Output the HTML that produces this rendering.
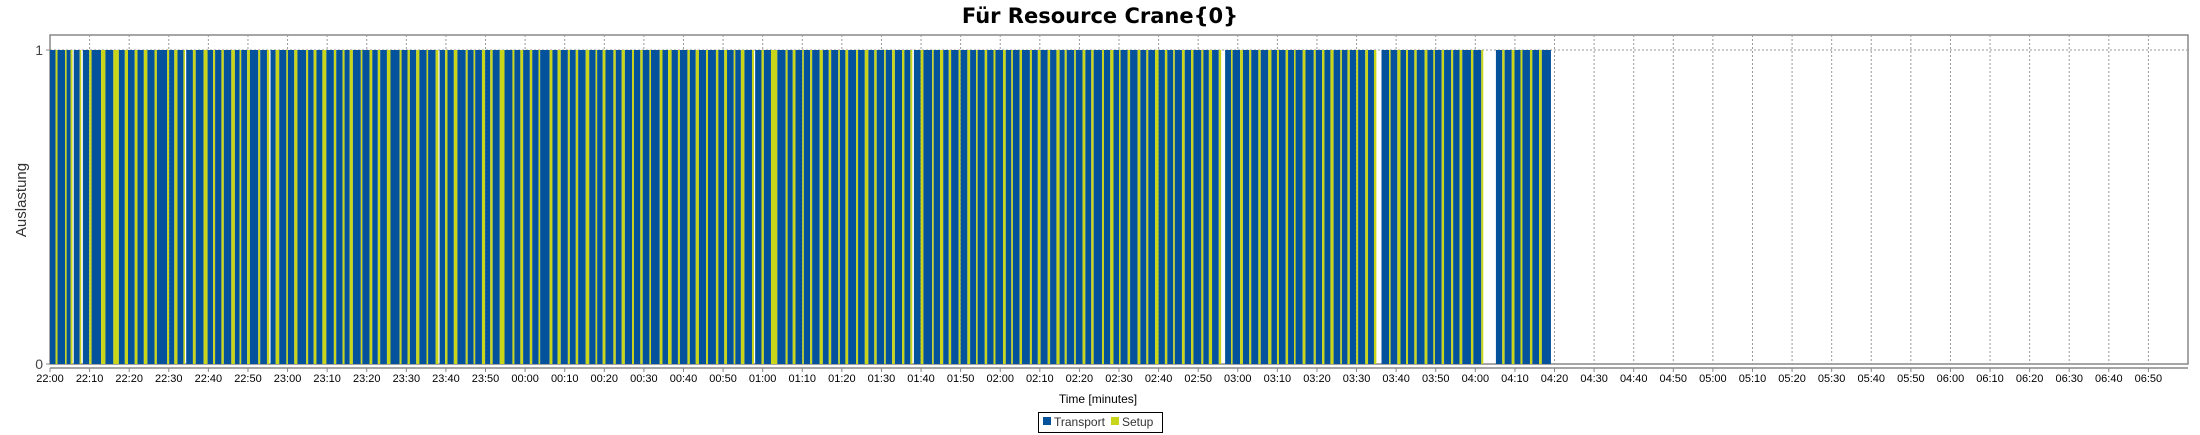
<!DOCTYPE html>
<html><head><meta charset="utf-8"><style>
html,body{margin:0;padding:0;background:#fff;width:2200px;height:435px;overflow:hidden}
svg{display:block;font-family:"Liberation Sans",sans-serif}
</style></head><body>
<svg id="chart" width="2200" height="435" viewBox="0 0 2200 435" xmlns="http://www.w3.org/2000/svg">
<text x="1100" y="23" text-anchor="middle" font-size="21" font-weight="bold" fill="#000" font-family="DejaVu Sans, Liberation Sans, sans-serif">Für Resource Crane{0}</text>
<rect x="50" y="35" width="2138" height="329" fill="#fff" stroke="#888" stroke-width="1.5"/>
<g id="grid"></g>
<g id="bars"></g>
<line x1="50" y1="368" x2="2188" y2="368" stroke="#888" stroke-width="1.5"/>
<g id="xticks"></g>
<g id="yticks"></g>
<text transform="translate(26,200) rotate(-90)" text-anchor="middle" font-size="15" fill="#333">Auslastung</text>
<text x="1098" y="403" text-anchor="middle" font-size="12" fill="#000">Time [minutes]</text>
<g>
<rect x="1038.5" y="412.5" width="124" height="20" fill="#fff" stroke="#000" stroke-width="1"/>
<rect x="1043" y="417" width="8" height="8" fill="#04529c"/>
<text x="1054" y="426" font-size="12" fill="#333">Transport</text>
<rect x="1111" y="417" width="8" height="8" fill="#c9d518"/>
<text x="1122" y="426" font-size="12" fill="#333">Setup</text>
</g>
</svg>
<script>
// minutes from 22:00
const tickLabels = ["22:00","22:10","22:20","22:30","22:40","22:50","23:00","23:10","23:20","23:30","23:40","23:50","00:00","00:10","00:20","00:30","00:40","00:50","01:00","01:10","01:20","01:30","01:40","01:50","02:00","02:10","02:20","02:30","02:40","02:50","03:00","03:10","03:20","03:30","03:40","03:50","04:00","04:10","04:20","04:30","04:40","04:50","05:00","05:10","05:20","05:30","05:40","05:50","06:00","06:10","06:20","06:30","06:40","06:50"];
const tickMinutes = [0,10,20,30,40,50,60,70,80,90,100,110,120,130,140,150,160,170,180,190,200,210,220,230,240,250,260,270,280,290,300,310,320,330,340,350,360,370,380,390,400,410,420,430,440,450,460,470,480,490,500,510,520,530];
const yTicks = [0,1];
const transportMin = [
1.4,1.9,1.0,1.5,1.6,2.4,2.0,1.5,1.7,1.6,
1.8,2.6,1.3,1.5,1.7,2.0,1.4,1.6,1.9,1.2,
1.5,2.1,1.7,1.3,1.8,1.6,2.2,1.4,1.5,1.9,
1.6,1.3,2.0,1.8,1.4,1.7,2.3,1.5,1.6,1.8,
1.9,1.4,1.6,2.1,1.5,1.7,1.3,1.8,2.0,1.5,
1.7,1.6,2.4,1.3,1.8,1.5,1.9,1.6,1.4,2.0,
1.5,1.8,1.6,1.7,2.2,1.4,1.6,1.9,1.5,1.8,
2.0,1.5,1.7,1.4,1.9,1.6,1.8,2.1,1.3,1.7,
1.6,1.9,1.5,1.8,1.4,2.0,1.7,1.5,1.9,1.6,
1.8,1.5,1.7,2.2,1.6,1.4,1.9,1.7,1.5,1.8,
1.6,1.9,1.4,1.7,2.0,1.5,1.8,1.6,1.3,1.9,
1.7,1.5,2.1,1.6,1.4,1.8,1.9,1.5,1.7,1.6,
1.5,1.8,1.6,2.0,1.4,1.7,1.5,1.9,1.6,1.8,
1.9,1.4,1.7,1.5,1.8,2.1,1.6,1.5,1.7,1.4,
1.6,1.8,1.5,1.9,1.7,1.4,1.6,2.0,1.5,1.7,
1.8,1.6,2.2,2.0,1.6,1.8,1.5,1.9,1.7,2.3];
const setupMin = [
0.5,0.4,0.5,0.4,0.6,1.1,1.4,0.8,0.7,0.9,
0.6,0.5,0.8,0.4,0.7,1.0,0.5,0.6,0.9,0.4,
0.7,0.5,0.6,0.9,0.4,0.8,0.5,0.7,1.0,0.6,
0.5,0.8,0.4,0.7,0.6,0.9,0.5,0.6,0.8,0.4,
0.7,0.6,0.9,0.5,0.4,0.8,0.6,1.2,0.5,0.7,
0.6,0.4,0.7,0.8,0.5,0.6,0.9,0.4,0.7,0.6,
0.8,0.5,0.6,0.4,0.7,0.9,0.5,0.6,0.8,0.5,
0.6,0.7,0.4,0.9,0.5,0.6,1.6,0.5,0.7,0.4,
0.5,0.8,0.6,0.4,0.7,0.5,0.9,0.6,0.4,0.7,
0.6,0.5,0.7,0.4,0.8,0.6,0.5,0.7,0.4,0.6,
0.5,0.7,0.4,0.6,0.5,0.7,0.6,0.8,0.5,0.4,
0.7,0.6,0.5,0.8,0.4,0.6,0.7,0.5,0.9,0.6,
0.4,0.7,0.6,0.5,0.8,0.6,0.4,0.7,0.5,0.6,
0.8,0.5,0.6,0.4,0.7,0.5,0.6,0.8,0.4,0.6,
0.5,0.7,0.6,0.4,0.8,0.5,0.6,0.7,0.4,0.6,
0.5,0.7,0.6,0.5,0.6,0.7,0.5,0.6,0.7,0.0];
const gapAfterCycle = [2,3,13,22,40,74,91,125,142,153];
const gapMin =        [0.3,0.4,0.3,0.3,0.3,0.3,0.4,1.0,1.3,3.2];

const X0 = 50, X1 = 2188, MAXMIN = 540, YTOP = 50, YBOT = 364;
const xs = m => X0 + (X1 - X0) * m / MAXMIN;
const ys = v => YBOT - (YBOT - YTOP) * v;
const NS = "http://www.w3.org/2000/svg";
function mk(tag, attrs, parent){ const e = document.createElementNS(NS, tag); for (const k in attrs) e.setAttribute(k, attrs[k]); parent.appendChild(e); return e; }

const grid = document.getElementById('grid');
const xt = document.getElementById('xticks');
tickMinutes.forEach((m,i)=>{
  const x = xs(m);
  if (i>0) { const gl = mk('line',{x1:x,y1:35,x2:x,y2:364,stroke:'#999','stroke-width':1,'stroke-dasharray':'2,2'},grid);
    
     }
  const tl = mk('line',{x1:x,y1:368,x2:x,y2:372,stroke:'#888','stroke-width':1},xt);
  
  
  const t = mk('text',{x:x,y:382,'text-anchor':'middle','font-size':11,fill:'#000'},xt);
  
  
  t.textContent = tickLabels[i];
});
const yt = document.getElementById('yticks');
yTicks.forEach(v=>{
  const y = ys(v);
  if (v>0) { const gl = mk('line',{x1:50,y1:y,x2:2188,y2:y,stroke:'#999','stroke-width':1,'stroke-dasharray':'2,2'},grid);
    
     }
  const tl = mk('line',{x1:46,y1:y,x2:50,y2:y,stroke:'#888','stroke-width':1},yt);
  
  
  const t = mk('text',{x:43,y:y+5,'text-anchor':'end','font-size':14,fill:'#444'},yt);
  
  
  t.textContent = v;
});
const bars = document.getElementById('bars');
let cur = 0;
for (let i=0;i<transportMin.length;i++){
  const a = xs(cur), b = xs(cur+transportMin[i]);
  const r = mk('rect',{x:a,y:ys(1),width:Math.max(0,b-a),height:ys(0)-ys(1),fill:'#04529c'},bars);
  
  
  cur += transportMin[i];
  if (setupMin[i]>0){
    const c = xs(cur), d = xs(cur+setupMin[i]);
    const s = mk('rect',{x:c,y:ys(1),width:Math.max(0,d-c),height:ys(0)-ys(1),fill:'#c9d518'},bars);
    
    
    cur += setupMin[i];
  }
  const gi = gapAfterCycle.indexOf(i);
  if (gi>=0) cur += gapMin[gi];
}
</script>
</body></html>
